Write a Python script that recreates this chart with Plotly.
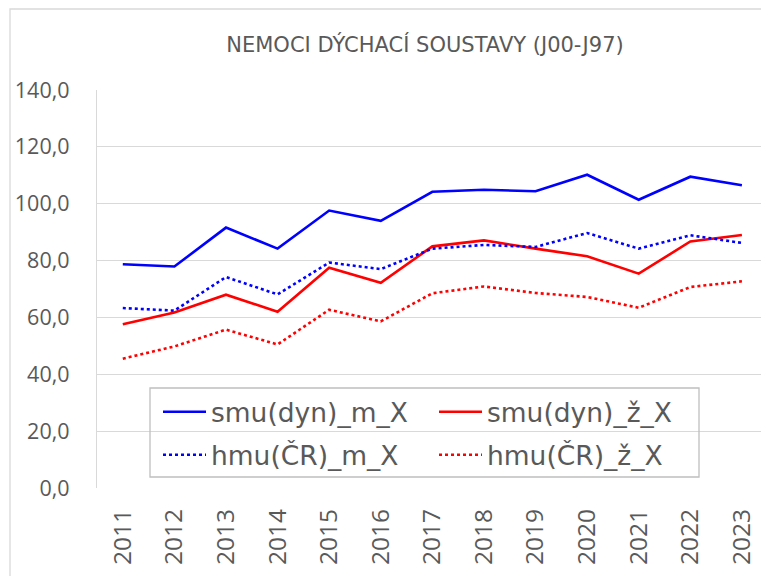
import plotly.graph_objects as go

# Years on the category axis
years = ["2011", "2012", "2013", "2014", "2015", "2016", "2017",
         "2018", "2019", "2020", "2021", "2022", "2023"]

# Standardised mortality (dynamic) and ČR standard, men / women
smu_m = [78.7, 77.9, 91.6, 84.2, 97.6, 94.0, 104.2, 104.9, 104.4, 110.2, 101.4, 109.5, 106.5]
smu_z = [57.6, 61.7, 68.0, 62.0, 77.5, 72.2, 85.0, 87.1, 84.2, 81.5, 75.4, 86.7, 89.0]
hmu_m = [63.3, 62.4, 74.2, 68.1, 79.3, 77.0, 84.2, 85.5, 84.8, 89.7, 84.2, 88.9, 86.2]
hmu_z = [45.5, 49.8, 55.7, 50.5, 62.7, 58.6, 68.5, 70.9, 68.6, 67.2, 63.4, 70.7, 72.7]

y_ticks = [0, 20, 40, 60, 80, 100, 120, 140]
y_tick_text = ["0,0", "20,0", "40,0", "60,0", "80,0", "100,0", "120,0", "140,0"]

W, H = 761, 576
ML, MR, MT, MB = 97, 0, 90, 88
FONT = "Open Sans"
WIDE = "DejaVu Sans"
GREY = "#595959"

fig = go.Figure()

series = [
    ("smu(dyn)_m_X", smu_m, "#0000FF", "solid", "legend"),
    ("smu(dyn)_ž_X", smu_z, "#FF0000", "solid", "legend"),
    ("hmu(ČR)_m_X", hmu_m, "#0000FF", "dot", "legend2"),
    ("hmu(ČR)_ž_X", hmu_z, "#FF0000", "dot", "legend2"),
]
for name, vals, color, dash, leg in series:
    fig.add_trace(go.Scatter(
        x=years, y=vals, name=name, mode="lines",
        line=dict(color=color, width=2.6, dash=dash),
        legend=leg,
    ))

pw = W - ML - MR
ph = H - MT - MB


def px_x(x):
    return (x - ML) / pw


def px_y(y):
    return (H - MB - y) / ph


legend_common = dict(
    orientation="h", xanchor="left", yanchor="middle",
    bgcolor="rgba(0,0,0,0)", borderwidth=0,
    font=dict(family=WIDE, size=26.5, color=GREY),
    itemwidth=43,
    entrywidth=218, entrywidthmode="pixels",
    itemclick=False, itemdoubleclick=False,
)

fig.update_layout(
    width=W, height=H,
    margin=dict(l=ML, r=MR, t=MT, b=MB),
    paper_bgcolor="white", plot_bgcolor="white",
    font=dict(family=FONT, color=GREY),
    title=dict(
        text="NEMOCI DÝCHACÍ SOUSTAVY (J00-J97)",
        x=425 / W, xref="container", xanchor="center",
        y=1 - 45 / H, yref="container", yanchor="middle",
        font=dict(family=WIDE, size=21, color=GREY),
    ),
    xaxis=dict(
        type="category", range=[-0.5, 12.37],
        tickangle=-90, tickfont=dict(family=FONT, size=24.5, color=GREY),
        showgrid=False, showline=False, zeroline=False,
        ticks="", ticklabelstandoff=15,
    ),
    yaxis=dict(
        range=[0, 140], tickvals=y_ticks, ticktext=y_tick_text,
        tickfont=dict(family=FONT, size=21.5, color=GREY),
        showgrid=True, gridcolor="#D9D9D9", gridwidth=1.3,
        showline=True, linecolor="#D9D9D9", linewidth=1.3,
        zeroline=False, ticks="", ticklabelstandoff=22,
    ),
    legend=dict(x=px_x(158), y=px_y(412), **legend_common),
    legend2=dict(x=px_x(158), y=px_y(455), **legend_common),
    showlegend=True,
    shapes=[
        # legend frame
        dict(type="rect", xref="paper", yref="paper",
             x0=px_x(150), x1=px_x(699), y0=px_y(477), y1=px_y(388),
             line=dict(color="#BFBFBF", width=1.3), fillcolor="rgba(0,0,0,0)",
             layer="above"),
        # outer chart border
        dict(type="rect", xref="paper", yref="paper",
             x0=px_x(10), x1=px_x(W + 20), y0=px_y(H + 20), y1=px_y(9),
             line=dict(color="#D9D9D9", width=1.3), fillcolor="rgba(0,0,0,0)",
             layer="below"),
    ],
)

fig.write_html("out.html")
